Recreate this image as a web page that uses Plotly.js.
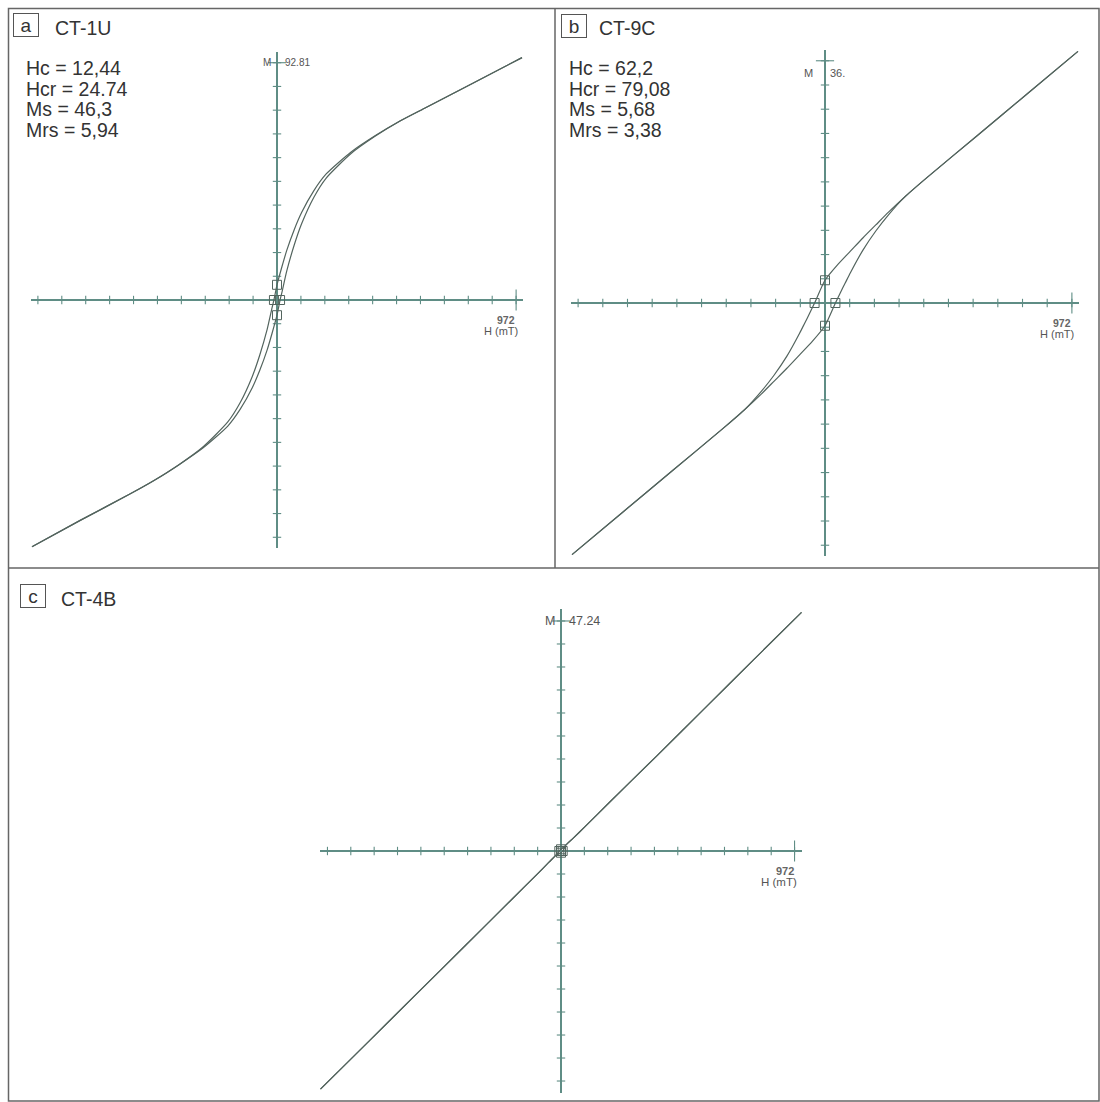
<!DOCTYPE html>
<html>
<head>
<meta charset="utf-8">
<script src="https://cdn.plot.ly/plotly-3.0.1.min.js"></script>
<style>html,body{margin:0;padding:0;background:#fff}</style>
</head>
<body>
<div id="chart" style="width:1100px;height:1102px"></div>
<script>
// Sample names, panel letters and hysteresis parameters
const samples = ["CT-1U", "CT-9C", "CT-4B"];
const panelLetters = ["a", "b", "c"];
const paramsA = ["Hc = 12,44", "Hcr = 24.74", "Ms = 46,3", "Mrs = 5,94"];
const paramsB = ["Hc = 62,2", "Hcr = 79,08", "Ms = 5,68", "Mrs = 3,38"];

// Axis end labels (H in mT, M in instrument units)
const hEndLabel = [972, 972, 972];
const mEndLabel = [92.81, 36, 47.24];
const mEndText = ["92.81", "36.", "47.24"];

// CT-1U: descending and ascending branches
const hDownA = [996, 800, 600, 500, 400, 300, 200, 150, 100, 70, 40, 20, 0, -12.44, -20, -40, -70, -100, -150, -200, -300, -400, -500, -600, -800, -996];
const mDownA = [94.8, 85.0, 75.0, 70.0, 64.3, 57.8, 49.3, 42.8, 34.2, 27.5, 19.5, 13.0, 5.94, 0, -3.0, -11.5, -21.5, -29.8, -40.2, -47.7, -57.4, -64.5, -70.6, -76.0, -86.2, -96.5];
const hUpA = [-996, -800, -600, -500, -400, -300, -200, -150, -100, -70, -40, -20, 0, 12.44, 20, 40, 70, 100, 150, 200, 300, 400, 500, 600, 800, 996];
const mUpA = [-96.5, -86.2, -76.0, -70.6, -64.5, -57.8, -49.3, -42.8, -34.2, -27.5, -19.5, -13.0, -5.94, 0, 3.0, 11.5, 21.5, 29.8, 40.2, 47.7, 57.2, 64.1, 70.0, 75.0, 85.0, 94.8];
const hMarkA = [0, 0, -12.44, 12.44];
const mMarkA = [5.94, -5.94, 0, 0];

// CT-9C
const hDownB = [996, 800, 600, 400, 315, 250, 200, 150, 100, 50, 0, -41, -60, -80, -100, -150, -200, -250, -315, -400, -600, -800, -996];
const mDownB = [37.4, 31.2, 24.9, 18.6, 15.8, 13.5, 11.6, 9.7, 7.7, 5.7, 3.38, 0, -1.5, -3.0, -4.5, -7.9, -10.7, -13.1, -15.8, -18.6, -24.9, -31.2, -37.4];
const hUpB = [-996, -800, -600, -400, -315, -250, -200, -150, -100, -50, 0, 41, 60, 80, 100, 150, 200, 250, 315, 400, 600, 800, 996];
const mUpB = [-37.4, -31.2, -24.9, -18.6, -15.8, -13.5, -11.6, -9.7, -7.7, -5.7, -3.38, 0, 1.5, 3.0, 4.5, 7.9, 10.7, 13.1, 15.8, 18.6, 24.9, 31.2, 37.4];
const hMarkB = [0, 0, -41, 41];
const mMarkB = [3.38, -3.38, 0, 0];

// CT-4B
const hDownC = [1001, 800, 600, 400, 200, 100, 50, 20, 0, -7, -20, -50, -100, -200, -400, -600, -800, -1001];
const mDownC = [49.0, 39.2, 29.4, 19.6, 9.9, 5.0, 2.6, 1.2, 0.35, 0, -0.8, -2.3, -4.8, -9.7, -19.5, -29.3, -39.1, -48.9];
const hUpC = [-1001, -800, -600, -400, -200, -100, -50, -20, 0, 7, 20, 50, 100, 200, 400, 600, 800, 1001];
const mUpC = [-48.9, -39.1, -29.3, -19.5, -9.7, -4.8, -2.3, -0.8, -0.35, 0, 1.2, 2.6, 5.0, 9.9, 19.6, 29.4, 39.2, 49.0];
const hMarkC = [0, 0, -7, 7];
const mMarkC = [0.35, -0.35, 0, 0];

// ---- page geometry ----
const W = 1100, HT = 1102;
const AXIS_COLOR = "#5f8d85";
const CURVE_COLOR = "#53645e";
const FRAME_COLOR = "#666666";
const FONT = "Liberation Sans, Arial, sans-serif";

// plot boxes in pixels: [left, right, top, bottom], symmetric half ranges, label sizes
const panels = [
  {box: [31, 523, 52, 548], hr: 1000, mr: 97, lab: 10, unit: 11,
   down: [hDownA, mDownA], up: [hUpA, mUpA], mark: [hMarkA, mMarkA]},
  {box: [571, 1079, 50, 556], hr: 1000, mr: 37.6, lab: 11, unit: 11,
   down: [hDownB, mDownB], up: [hUpB, mUpB], mark: [hMarkB, mMarkB]},
  {box: [320, 802, 609, 1093], hr: 1003, mr: 49.7, lab: 12.5, unit: 11.5,
   down: [hDownC, mDownC], up: [hUpC, mUpC], mark: [hMarkC, mMarkC]}
];

const px = v => v / W;
const py = v => 1 - v / HT;

const layout = {
  width: W, height: HT,
  margin: {l: 0, r: 0, t: 0, b: 0},
  paper_bgcolor: "#ffffff", plot_bgcolor: "rgba(0,0,0,0)",
  showlegend: false, hovermode: false,
  font: {family: FONT, color: "#333"},
  annotations: [], shapes: []
};
const traces = [];

panels.forEach((p, i) => {
  const sfx = i === 0 ? "" : String(i + 1);
  const xa = "x" + sfx, ya = "y" + sfx;
  const axBase = {showgrid: false, showticklabels: false, ticks: "", showline: false,
    zeroline: true, zerolinecolor: AXIS_COLOR, zerolinewidth: 1.3, fixedrange: true};
  layout["xaxis" + sfx] = Object.assign({}, axBase, {
    domain: [px(p.box[0]), px(p.box[1])], range: [-p.hr, p.hr], anchor: ya});
  layout["yaxis" + sfx] = Object.assign({}, axBase, {
    domain: [py(p.box[3]), py(p.box[2])], range: [-p.mr, p.mr], anchor: xa});

  // tick marks on the H and M axes, one tenth of the end label apart
  const hStep = hEndLabel[i] / 10, mStep = mEndLabel[i] / 10;
  const hT = [], mT = [];
  for (let k = 1; k <= 10; k++) {
    hT.push(k * hStep, -k * hStep);
    mT.push(k * mStep, -k * mStep);
  }
  const tickMarker = (sym, size) => ({symbol: sym, size: size, color: AXIS_COLOR,
    line: {color: AXIS_COLOR, width: 1.1}});
  traces.push({x: hT, y: hT.map(() => 0), xaxis: xa, yaxis: ya, mode: "markers", cliponaxis: false,
    marker: tickMarker("line-ns-open", 6)});
  traces.push({x: mT.map(() => 0), y: mT, xaxis: xa, yaxis: ya, mode: "markers", cliponaxis: false,
    marker: tickMarker("line-ew-open", 6)});
  // longer ticks at the labelled ends
  traces.push({x: [hEndLabel[i]], y: [0], xaxis: xa, yaxis: ya, mode: "markers", cliponaxis: false,
    marker: tickMarker("line-ns-open", 15)});
  traces.push({x: [0], y: [mEndLabel[i]], xaxis: xa, yaxis: ya, mode: "markers", cliponaxis: false,
    marker: tickMarker("line-ew-open", 13)});

  // hysteresis branches
  [p.down, p.up].forEach(br => {
    traces.push({x: br[0], y: br[1], xaxis: xa, yaxis: ya, mode: "lines", cliponaxis: false,
      line: {color: CURVE_COLOR, width: 1.2, shape: "spline", smoothing: 0.6}});
  });
  // Hc / Mrs markers
  traces.push({x: p.mark[0], y: p.mark[1], xaxis: xa, yaxis: ya, mode: "markers", cliponaxis: false,
    marker: {symbol: "square-open", size: 9, color: CURVE_COLOR, line: {color: CURVE_COLOR, width: 1}}});

  // axis labels
  const small = {family: FONT, size: p.lab, color: "#555"};
  const unitFont = {family: FONT, size: p.unit, color: "#555"};
  layout.annotations.push(
    {xref: xa, yref: ya, x: hEndLabel[i], y: 0, text: "<b>" + hEndLabel[i] + "</b>", showarrow: false,
     xanchor: "right", yanchor: "top", xshift: 1, yshift: -12, font: {family: FONT, size: p.unit - 0.5, color: "#666"}},
    {xref: xa, yref: ya, x: hEndLabel[i], y: 0, text: "H (mT)", showarrow: false,
     xanchor: "right", yanchor: "top", xshift: 4, yshift: -23, font: unitFont}
  );
  if (i === 1) {
    layout.annotations.push(
      {xref: xa, yref: ya, x: 0, y: mEndLabel[i], text: "M", showarrow: false,
       xanchor: "right", yanchor: "middle", xshift: -10, yshift: -12, font: small},
      {xref: xa, yref: ya, x: 0, y: mEndLabel[i], text: mEndText[i], showarrow: false,
       xanchor: "left", yanchor: "middle", xshift: 3, yshift: -12, font: small});
  } else {
    layout.annotations.push(
      {xref: xa, yref: ya, x: 0, y: mEndLabel[i], text: "M", showarrow: false,
       xanchor: "right", yanchor: "middle", xshift: -4, font: small},
      {xref: xa, yref: ya, x: 0, y: mEndLabel[i], text: mEndText[i], showarrow: false,
       xanchor: "left", yanchor: "middle", xshift: 6, font: small});
  }
});

// panel letters in boxes and sample names
const letterPos = [[26, 25], [574, 25.5], [32.5, 595.5]];
const namePos = [[53, 28], [597, 28], [59, 599]];
panelLetters.forEach((L, i) => {
  layout.annotations.push({xref: "paper", yref: "paper", x: px(letterPos[i][0]), y: py(letterPos[i][1]),
    text: L, showarrow: false, xanchor: "center", yanchor: "middle", width: 22, height: 20,
    bordercolor: "#555", borderwidth: 1, borderpad: 1, font: {family: FONT, size: 19, color: "#333"}});
  layout.annotations.push({xref: "paper", yref: "paper", x: px(namePos[i][0]), y: py(namePos[i][1]),
    text: samples[i], showarrow: false, xanchor: "left", yanchor: "middle",
    font: {family: FONT, size: 19.5, color: "#333"}});
});

// hysteresis parameter blocks
const rowY = [68, 88.7, 109.4, 130];
[[paramsA, 24], [paramsB, 567]].forEach(([rows, x0]) => {
  rows.forEach((t, r) => layout.annotations.push({xref: "paper", yref: "paper",
    x: px(x0), y: py(rowY[r]), text: t, showarrow: false, xanchor: "left", yanchor: "middle",
    font: {family: FONT, size: 19.5, color: "#333"}}));
});

// frame and panel dividers
const fl = {color: FRAME_COLOR, width: 1.5};
layout.shapes.push(
  {type: "rect", xref: "paper", yref: "paper", x0: px(8.5), x1: px(1099), y0: py(8.5), y1: py(1101), line: fl},
  {type: "line", xref: "paper", yref: "paper", x0: px(555), x1: px(555), y0: py(8.5), y1: py(568), line: fl},
  {type: "line", xref: "paper", yref: "paper", x0: px(8.5), x1: px(1099), y0: py(568), y1: py(568), line: fl}
);

Plotly.newPlot("chart", traces, layout, {staticPlot: true, displayModeBar: false});
</script>
</body>
</html>
